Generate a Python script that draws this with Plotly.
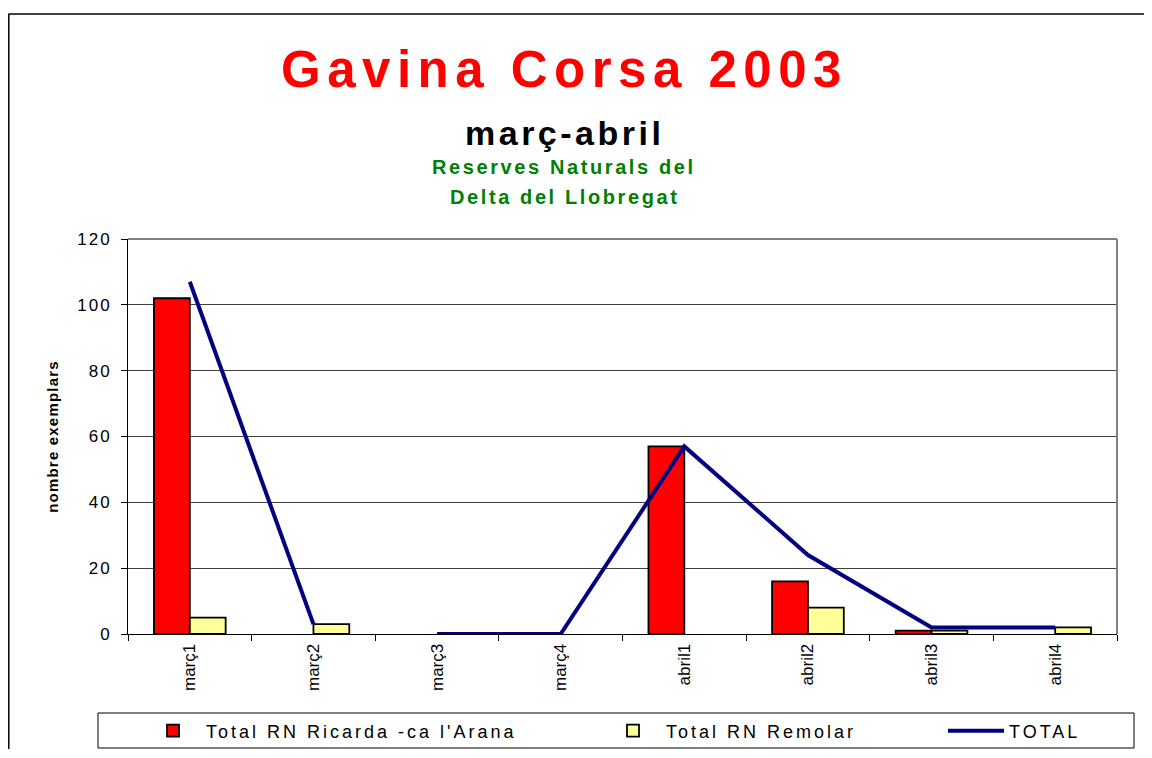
import plotly.graph_objects as go

categories = ["març1", "març2", "març3", "març4", "abril1", "abril2", "abril3", "abril4"]
ricarda = [102, 0, 0, 0, 57, 16, 1, 0]
remolar = [5, 3, 0, 0, 0, 8, 1, 2]
total = [107, 3, 0, 0, 57, 24, 2, 2]
total_break_after = 1  # the TOTAL line is not drawn between març2 and març3
y_ticks = [0, 20, 40, 60, 80, 100, 120]

OFF = 8  # page offset of the plot div
W, H = 1152 - 2 * OFF, 758 - 2 * OFF - 1
# plot area in screen pixels
SX0, SX1, SY0, SY1 = 128, 1117, 239, 634
L, R = SX0 - OFF, W - (SX1 - OFF)
T, B = SY0 - OFF, H - (SY1 - OFF)
PW, PH = SX1 - SX0, SY1 - SY0


def px(x):
    return (x - SX0) / PW


def py(y):
    return (SY1 - y) / PH


FONT = "Liberation Sans, Arial, sans-serif"


def spaced(text, sp, bold=False):
    inner = f"<b>{text}</b>" if bold else text
    return f'<span style="letter-spacing:{sp}px">{inner}</span>'


line_x = categories[:total_break_after + 1] + [categories[total_break_after]] + categories[total_break_after + 1:]
line_y = total[:total_break_after + 1] + [None] + total[total_break_after + 1:]


def outline(vals):
    return [1.8 if v > 0 else 0 for v in vals]


fig = go.Figure()
fig.add_trace(go.Bar(x=categories, y=ricarda, name=spaced("Total RN Ricarda -ca l'Arana", 3),
                     marker=dict(color="#FF0000", line=dict(color="black", width=outline(ricarda))),
                     legend="legend"))
fig.add_trace(go.Bar(x=categories, y=remolar, name=spaced("Total RN Remolar", 3),
                     marker=dict(color="#FFFF99", line=dict(color="black", width=outline(remolar))),
                     legend="legend2"))
fig.add_trace(go.Scatter(x=line_x, y=line_y, name=spaced("TOTAL", 3), mode="lines",
                         line=dict(color="#000080", width=4), connectgaps=False,
                         legend="legend3"))

leg_common = dict(orientation="h", yanchor="middle", y=py(731), xanchor="left",
                  bgcolor="rgba(0,0,0,0)", borderwidth=0, itemwidth=56,
                  font=dict(family=FONT, size=18, color="black"))

fig.update_layout(
    width=W, height=H,
    margin=dict(l=L, r=R, t=T, b=B, autoexpand=False),
    paper_bgcolor="white", plot_bgcolor="white",
    barmode="group", bargap=0.42, bargroupgap=0,
    font=dict(family=FONT, color="black"),
    showlegend=True,
    legend=dict(x=px(140), **leg_common),
    legend2=dict(x=px(600), **leg_common),
    legend3=dict(x=px(943), **leg_common),
    xaxis=dict(type="category", tickson="boundaries", ticks="outside", ticklen=6,
               tickcolor="black", showline=True, linecolor="black", linewidth=1,
               tickangle=-90, tickfont=dict(family=FONT, size=17, color="black"),
               ticklabelstandoff=2, showgrid=False),
    yaxis=dict(range=[0, 120], tickmode="array", tickvals=y_ticks,
               ticktext=[spaced(str(v), 2) for v in y_ticks],
               ticks="outside", ticklen=6, tickcolor="black",
               showline=True, linecolor="black", linewidth=1,
               showgrid=True, gridcolor="#404040", gridwidth=1,
               tickfont=dict(family=FONT, size=17, color="black"),
               ticklabelstandoff=6,
               title=dict(text=spaced("nombre exemplars", 1.2, bold=True),
                          font=dict(family=FONT, size=15, color="black"), standoff=14),
               zeroline=False),
    shapes=[
        # outer chart frame (only top and left edges are inside the picture)
        dict(type="line", xref="paper", yref="paper", x0=px(8.5), x1=px(1160), y0=py(14), y1=py(14),
             line=dict(color="black", width=1.5)),
        dict(type="line", xref="paper", yref="paper", x0=px(8.8), x1=px(8.8), y0=py(14), y1=py(770),
             line=dict(color="black", width=1.5)),
        # plot area top / right border
        dict(type="line", xref="paper", yref="paper", x0=0, x1=1, y0=1, y1=1,
             line=dict(color="#808080", width=2)),
        dict(type="line", xref="paper", yref="paper", x0=1, x1=1, y0=0, y1=1,
             line=dict(color="#808080", width=2)),
        # legend box
        dict(type="rect", xref="paper", yref="paper", x0=px(98), x1=px(1134), y0=py(748), y1=py(713),
             line=dict(color="black", width=1), fillcolor="rgba(0,0,0,0)"),
    ],
    annotations=[
        dict(text=spaced("Gavina Corsa 2003", 6.5, bold=True), xref="paper", yref="paper",
             x=px(564), y=py(70), xanchor="center", yanchor="middle",
             showarrow=False, font=dict(family=FONT, size=51, color="#FF0000")),
        dict(text=spaced("març-abril", 3.5, bold=True), xref="paper", yref="paper",
             x=px(564), y=py(133), xanchor="center", yanchor="middle",
             showarrow=False, font=dict(family=FONT, size=34, color="black")),
        dict(text=spaced("Reserves Naturals del", 2.6, bold=True), xref="paper", yref="paper",
             x=px(564), y=py(167), xanchor="center", yanchor="middle",
             showarrow=False, font=dict(family=FONT, size=20, color="#008000")),
        dict(text=spaced("Delta del Llobregat", 2.6, bold=True), xref="paper", yref="paper",
             x=px(564), y=py(197), xanchor="center", yanchor="middle",
             showarrow=False, font=dict(family=FONT, size=20, color="#008000")),
    ],
)

fig.write_html("out.html")
